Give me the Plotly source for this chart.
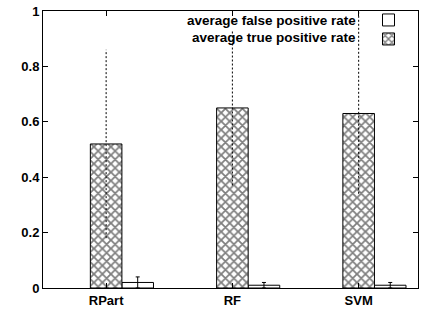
import plotly.graph_objects as go

categories = ["RPart", "RF", "SVM"]
tpr = [0.52, 0.65, 0.63]
tpr_err_plus = [0.34, 0.28, 0.37]
tpr_err_minus = [0.34, 0.28, 0.29]
fpr = [0.02, 0.01, 0.01]
fpr_err = [0.02, 0.01, 0.01]
ytick_vals = [0, 0.2, 0.4, 0.6, 0.8, 1]
ytick_text = ["0", "0.2", "0.4", "0.6", "0.8", "1"]
legend_fpr = "average false positive rate"
legend_tpr = "average true positive rate"

bw = 0.25
x_tpr = list(range(len(categories)))
x_fpr = [x + bw for x in x_tpr]

FONT = "Liberation Sans, Arial, sans-serif"

fig = go.Figure()

fig.add_trace(go.Bar(
    x=x_fpr, y=fpr, width=bw, name=" ",
    marker=dict(color="white", line=dict(color="black", width=1)),
    error_y=dict(type="data", array=fpr_err, color="black", thickness=1, width=2),
    showlegend=True,
))
fig.add_trace(go.Bar(
    x=x_tpr, y=tpr, width=bw, name=" ",
    marker=dict(color="white", line=dict(color="black", width=1),
                pattern=dict(shape="x", fgcolor="black", bgcolor="white",
                             size=6, solidity=0.5)),
    showlegend=True,
))

ex, ey = [], []
for x, v, ep, em in zip(x_tpr, tpr, tpr_err_plus, tpr_err_minus):
    ex += [x, x, None]
    ey += [v - em, v + ep, None]
fig.add_trace(go.Scatter(
    x=ex, y=ey, mode="lines", showlegend=False,
    line=dict(color="black", width=1, dash="2px,2px"),
))

fig.add_annotation(xref="paper", yref="paper", x=0.84, y=0.9675,
                   text="<b>%s</b>" % legend_fpr, showarrow=False,
                   xanchor="right", yanchor="middle",
                   font=dict(family=FONT, size=13.5, color="black"))
fig.add_annotation(xref="paper", yref="paper", x=0.84, y=0.906,
                   text="<b>%s</b>" % legend_tpr, showarrow=False,
                   xanchor="right", yanchor="middle",
                   font=dict(family=FONT, size=13.5, color="black"))

fig.update_layout(
    width=421, height=313,
    margin=dict(l=43, r=3, t=11, b=25),
    paper_bgcolor="white", plot_bgcolor="white",
    barmode="overlay",
    font=dict(family=FONT, size=13, color="black"),
    legend=dict(x=0.868, y=1.02, xanchor="left", yanchor="top",
                bgcolor="rgba(0,0,0,0)", font=dict(size=8),
                itemwidth=30, tracegroupgap=0),
    xaxis=dict(range=[-0.5, 2.47], tickvals=x_tpr,
               ticktext=["<b>%s</b>" % c for c in categories],
               showline=True, linecolor="black", linewidth=1, mirror="ticks",
               ticks="inside", ticklen=5, tickcolor="black",
               showgrid=False, zeroline=False),
    yaxis=dict(range=[0, 1], tickvals=ytick_vals,
               ticktext=["<b>%s</b>" % t for t in ytick_text],
               showline=True, linecolor="black", linewidth=1, mirror="ticks",
               ticks="inside", ticklen=5, tickcolor="black",
               showgrid=False, zeroline=False),
)

fig.write_html("out.html", config={"displayModeBar": False},
               post_script="document.body.style.margin='0px';")
